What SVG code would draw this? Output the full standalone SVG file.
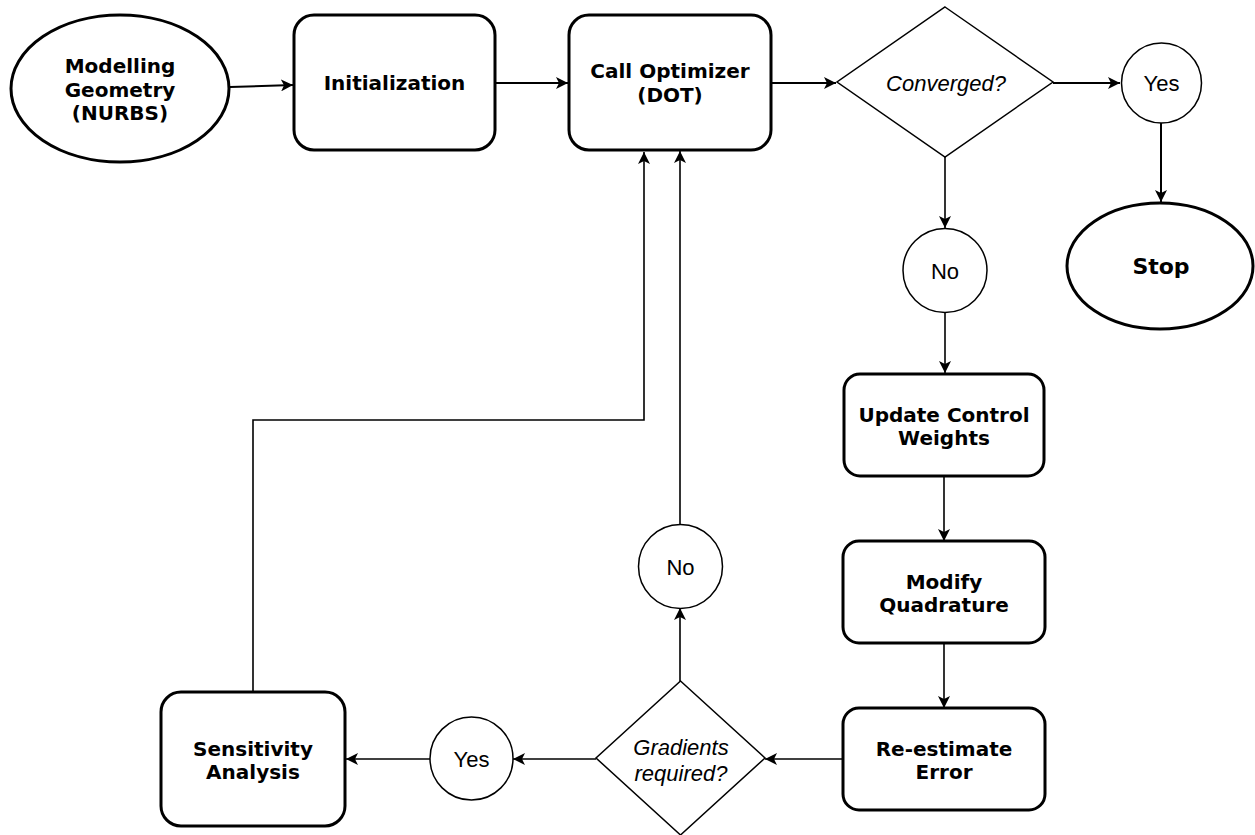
<svg xmlns="http://www.w3.org/2000/svg" width="1255" height="835" viewBox="0 0 1255 835">
  <style>
    .bg { fill: #ffffff; }
    .thick { fill: #ffffff; stroke: #000000; stroke-width: 3; }
    .thin { fill: #ffffff; stroke: #000000; stroke-width: 1.5; }
    .edge { fill: none; stroke: #000000; stroke-width: 1.6; }
    .edge2 { fill: none; stroke: #000000; stroke-width: 2; }
    .bold { font-family: "DejaVu Sans", Verdana, sans-serif; font-weight: bold; font-size: 20px; fill: #000000; text-anchor: middle; }
    .big { font-size: 22px; }
    .plain { font-family: "Liberation Sans", Arial, sans-serif; font-size: 22px; fill: #000000; text-anchor: middle; }
    .ital { font-style: italic; }
  </style>
  <defs>
    <marker id="arrow" viewBox="0 0 12 12" refX="12" refY="6" markerWidth="12" markerHeight="12" markerUnits="userSpaceOnUse" orient="auto">
      <path d="M0,0 L12,6 L0,12 L3,6 Z" fill="#000000"/>
    </marker>
  </defs>
  <rect class="bg" x="0" y="0" width="1255" height="835"/>

  <!-- connectors -->
  <g id="connectors">
    <path class="edge2" d="M230,87 L293,85" marker-end="url(#arrow)"/>
    <path class="edge2" d="M495,83 L568,83" marker-end="url(#arrow)"/>
    <path class="edge2" d="M771,83 L836,83" marker-end="url(#arrow)"/>
    <path class="edge2" d="M1053,83 L1120,83" marker-end="url(#arrow)"/>
    <path class="edge2" d="M1161,123 L1161,202" marker-end="url(#arrow)"/>
    <path class="edge" d="M945,157 L945,228" marker-end="url(#arrow)"/>
    <path class="edge" d="M945,313 L945,373" marker-end="url(#arrow)"/>
    <path class="edge" d="M944,476 L944,541" marker-end="url(#arrow)"/>
    <path class="edge" d="M944,643 L944,708" marker-end="url(#arrow)"/>
    <path class="edge" d="M843,759 L765,759" marker-end="url(#arrow)"/>
    <path class="edge" d="M680,681 L680,608" marker-end="url(#arrow)"/>
    <path class="edge" d="M680,525 L680,151" marker-end="url(#arrow)"/>
    <path class="edge" d="M596,759 L513,759" marker-end="url(#arrow)"/>
    <path class="edge" d="M430,759 L346,759" marker-end="url(#arrow)"/>
    <path class="edge" d="M253,692 L253,420 L644,420 L644,152" marker-end="url(#arrow)"/>
  </g>

  <!-- start terminal -->
  <g id="modelling-geometry">
    <ellipse class="thick" cx="120" cy="88.5" rx="109" ry="73.5"/>
    <text class="bold" x="120" y="73">Modelling</text>
    <text class="bold" x="120" y="96.5">Geometry</text>
    <text class="bold" x="120" y="120">(NURBS)</text>
  </g>

  <g id="initialization">
    <rect class="thick" x="294" y="15" width="201" height="135" rx="20" ry="20"/>
    <text class="bold" x="394.5" y="90">Initialization</text>
  </g>

  <g id="call-optimizer">
    <rect class="thick" x="569" y="15" width="202" height="135" rx="20" ry="20"/>
    <text class="bold" x="670" y="78">Call Optimizer</text>
    <text class="bold" x="670" y="102">(DOT)</text>
  </g>

  <g id="converged">
    <polygon class="thin" points="945,7 1053,82 945,157 837,82"/>
    <text class="plain ital" x="946" y="91">Converged?</text>
  </g>

  <g id="yes-top">
    <circle class="thin" cx="1161.5" cy="83" r="40"/>
    <text class="plain" x="1161.5" y="91">Yes</text>
  </g>

  <g id="stop">
    <ellipse class="thick" cx="1160" cy="266" rx="93" ry="63"/>
    <text class="bold big" x="1161" y="274">Stop</text>
  </g>

  <g id="no-top">
    <circle class="thin" cx="945" cy="270.5" r="42"/>
    <text class="plain" x="945" y="279">No</text>
  </g>

  <g id="update-control-weights">
    <rect class="thick" x="844" y="374" width="200" height="102" rx="16" ry="16"/>
    <text class="bold" x="944" y="421.5">Update Control</text>
    <text class="bold" x="944" y="444.5">Weights</text>
  </g>

  <g id="modify-quadrature">
    <rect class="thick" x="843" y="541" width="202" height="102" rx="16" ry="16"/>
    <text class="bold" x="944" y="588.5">Modify</text>
    <text class="bold" x="944" y="611.5">Quadrature</text>
  </g>

  <g id="re-estimate-error">
    <rect class="thick" x="843" y="708" width="202" height="102" rx="16" ry="16"/>
    <text class="bold" x="944" y="755.5">Re-estimate</text>
    <text class="bold" x="944" y="778.5">Error</text>
  </g>

  <g id="gradients-required">
    <polygon class="thin" points="680.5,681 765,758 680.5,835 596,758"/>
    <text class="plain ital" x="681" y="755">Gradients</text>
    <text class="plain ital" x="681" y="781">required?</text>
  </g>

  <g id="no-bottom">
    <circle class="thin" cx="680.5" cy="566.5" r="42"/>
    <text class="plain" x="680.5" y="575">No</text>
  </g>

  <g id="yes-bottom">
    <circle class="thin" cx="471.5" cy="758.5" r="41.5"/>
    <text class="plain" x="471.5" y="767">Yes</text>
  </g>

  <g id="sensitivity-analysis">
    <rect class="thick" x="161" y="692" width="184" height="134" rx="20" ry="20"/>
    <text class="bold" x="253" y="755.5">Sensitivity</text>
    <text class="bold" x="253" y="778.5">Analysis</text>
  </g>
</svg>
